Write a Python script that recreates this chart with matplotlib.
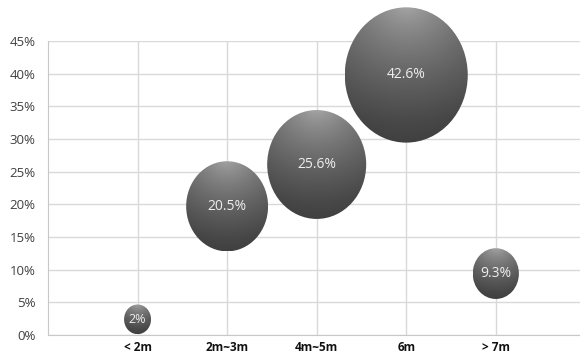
import numpy as np
import matplotlib
matplotlib.use("Agg")
import matplotlib.pyplot as plt
from matplotlib.patches import Ellipse

# data
categories = ["< 2m", "2m~3m", "4m~5m", "6m", "> 7m"]
labels = ["2%", "20.5%", "25.6%", "42.6%", "9.3%"]
y_pos = [2.4, 19.7, 26.1, 39.8, 9.4]          # bubble centre, %
bubble_size = [2.05, 18.9, 27.6, 42.6, 6.0]    # bubble area (relative)
yticks = [0, 5, 10, 15, 20, 25, 30, 35, 40, 45]

W, H, DPI = 580, 357, 100
fig = plt.figure(figsize=(W / DPI, H / DPI), dpi=DPI)
left, right, top, bottom = 48, 580, 41, 335
ax = fig.add_axes([left / W, (H - bottom) / H, (right - left) / W, (bottom - top) / H])

xmax = 5.94
ax.set_xlim(0, xmax)
ax.set_ylim(0, 45)
ax.set_yticks(yticks)
ax.set_yticklabels(["%d%%" % t for t in yticks], fontsize=9.5, color="#404040",
                   family="Open Sans")
ax.set_xticks(np.arange(1, len(categories) + 1))
ax.set_xticklabels(categories, fontsize=8.5, fontweight="bold", color="#111111",
                   family="Open Sans")
ax.tick_params(axis="y", length=0, pad=9)
ax.tick_params(axis="x", length=0, pad=4)
ax.grid(True, color="#d9d9d9", lw=1)
ax.set_axisbelow(True)
for s in ["top", "right"]:
    ax.spines[s].set_visible(False)
for s in ["left", "bottom"]:
    ax.spines[s].set_color("#c8c8c8")

# pixel -> data scale
px_x = (right - left) / xmax
px_y = (bottom - top) / 45.0
k = 123 / np.sqrt(max(bubble_size))

# gradient image for the bubbles
n = 200
u, v = np.meshgrid(np.linspace(-1, 1, n), np.linspace(1, -1, n))
d = np.sqrt((u * 0.9) ** 2 + (v - 1.15) ** 2) / 2.15
d = np.clip(d, 0, 1)
shade = 0.74 - 0.50 * d ** 0.6
shade = shade + 0.04 * np.clip(-v - 0.7, 0, 1)
img = np.dstack([shade, shade, shade])

for i, (yv, sz, lab) in enumerate(zip(y_pos, bubble_size, labels)):
    xc = i + 1
    wpx = k * np.sqrt(sz)
    hpx = wpx * 1.1
    w = wpx / px_x
    h = hpx / px_y
    e = Ellipse((xc, yv), w, h, facecolor="none", edgecolor="none", zorder=3,
                clip_on=False)
    ax.add_patch(e)
    im = ax.imshow(img, extent=(xc - w / 2, xc + w / 2, yv - h / 2, yv + h / 2),
                   aspect="auto", zorder=3, interpolation="bilinear")
    im.set_clip_box(fig.bbox)
    im.set_clip_path(e)
    ax.text(xc, yv, lab, ha="center", va="center", color="#eeeeee",
            fontsize=10 if sz > 3 else 9, family="Open Sans", zorder=4)

ax.set_xlim(0, xmax)
ax.set_ylim(0, 45)
fig.savefig("out.png", dpi=DPI)
